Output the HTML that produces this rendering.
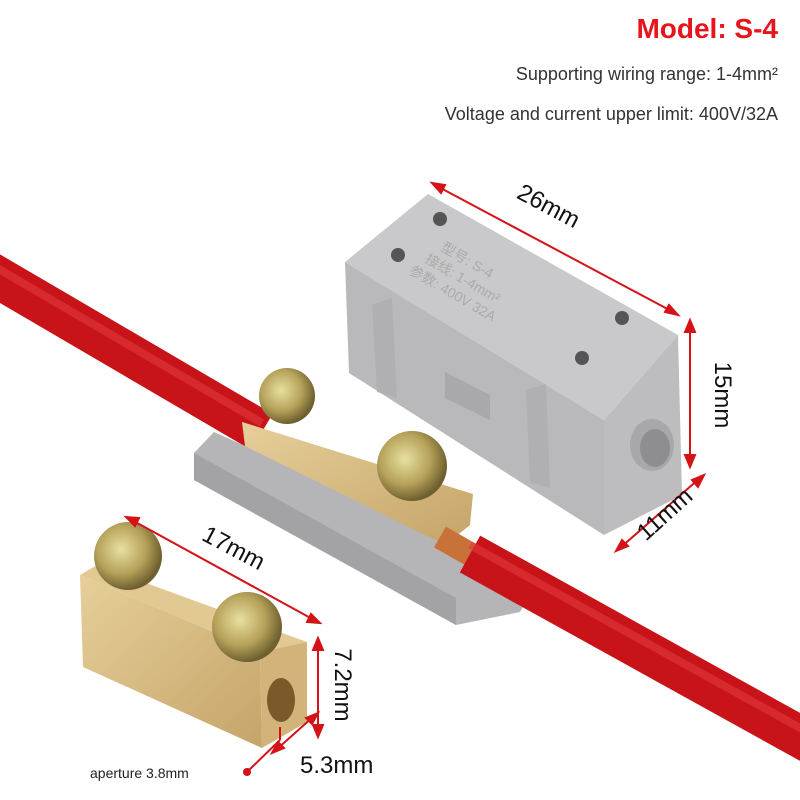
<!DOCTYPE html>
<html><head><meta charset="utf-8"><style>
html,body{margin:0;padding:0;background:#fff;}
svg{display:block;}
</style></head><body>
<svg width="800" height="800" viewBox="0 0 800 800" xmlns="http://www.w3.org/2000/svg" font-family="Liberation Sans, sans-serif">
<defs>
<linearGradient id="brass" x1="0" y1="0" x2="1" y2="1"><stop offset="0" stop-color="#e6cf9a"/><stop offset="1" stop-color="#c5a468"/></linearGradient>
<radialGradient id="screw" cx="0.4" cy="0.4" r="0.6"><stop offset="0" stop-color="#e8e0a0"/><stop offset="0.6" stop-color="#b6a25a"/><stop offset="1" stop-color="#6f6030"/></radialGradient>
</defs>
<rect width="800" height="800" fill="#fff"/>
<text x="778" y="38" text-anchor="end" font-size="28" font-weight="bold" fill="#e8141c">Model: S-4</text>
<text x="778" y="80" text-anchor="end" font-size="18" fill="#333">Supporting wiring range: 1-4mm²</text>
<text x="778" y="120" text-anchor="end" font-size="18" fill="#333">Voltage and current upper limit: 400V/32A</text>

<!-- wire under housing -->
<line x1="-20" y1="267" x2="262" y2="432" stroke="#c81419" stroke-width="42"/>
<line x1="-20" y1="258" x2="262" y2="423" stroke="#e2393c" stroke-width="8" opacity="0.6"/>

<!-- top gray box -->
<polygon points="345,262 604,420 604,535 349,373" fill="#b9b9bb"/>
<polygon points="428,194 678,335 604,420 345,262" fill="#c9c9cb"/>
<polygon points="604,420 678,335 682,495 604,535" fill="#bdbdbf"/>
<polygon points="372,305 392,298 397,398 377,392" fill="#b0b0b2"/>
<polygon points="526,390 546,384 550,488 530,482" fill="#b0b0b2"/>
<polygon points="445,372 490,395 490,420 445,398" fill="#a9a9ab"/>
<ellipse cx="652" cy="445" rx="22" ry="26" fill="#a8a8aa"/>
<ellipse cx="655" cy="448" rx="15" ry="19" fill="#8e8e90"/>
<circle cx="440" cy="219" r="7" fill="#555"/><circle cx="398" cy="255" r="7" fill="#555"/>
<circle cx="622" cy="318" r="7" fill="#555"/><circle cx="582" cy="358" r="7" fill="#555"/>
<g transform="translate(440,250) rotate(30)" font-size="14" fill="#aaa" font-family="Liberation Sans, Noto Sans CJK SC, sans-serif">
<text x="0" y="0">型号: S-4</text><text x="-8" y="18">接线: 1-4mm²</text><text x="-16" y="36">参数: 400V 32A</text></g>

<!-- lower housing -->
<polygon points="214,432 540,578 520,612 456,625 194,480 194,453" fill="#b5b5b7"/>
<polygon points="194,453 456,598 456,625 194,480" fill="#a3a3a5"/>
<polygon points="242,422 473,494 470,525 445,545 245,446" fill="url(#brass)"/>
<line x1="440" y1="537" x2="475" y2="557" stroke="#c8723a" stroke-width="24"/>
<!-- wire exiting -->
<line x1="470" y1="554" x2="820" y2="748" stroke="#c81419" stroke-width="42"/>
<line x1="470" y1="545" x2="820" y2="739" stroke="#e2393c" stroke-width="8" opacity="0.6"/>
<circle cx="287" cy="396" r="28" fill="url(#screw)"/>
<circle cx="412" cy="466" r="35" fill="url(#screw)"/>

<!-- brass block -->
<polygon points="80,575 97,565 307,642 260,652" fill="#e2c993"/>
<polygon points="80,575 260,652 262,748 83,667" fill="url(#brass)"/>
<polygon points="260,652 307,642 307,722 262,748" fill="#d2b47a"/>
<ellipse cx="281" cy="700" rx="14" ry="22" fill="#7a5a2a"/>
<circle cx="128" cy="556" r="34" fill="url(#screw)"/>
<circle cx="247" cy="627" r="35" fill="url(#screw)"/>

<!-- dimension lines -->
<g stroke="#d41218" stroke-width="2" fill="#d41218">
<line x1="435" y1="185" x2="675" y2="313"/><polygon points="432,183 445,185 441,193"/><polygon points="678,315 665,312 669,305"/>
<line x1="690" y1="325" x2="690" y2="462"/><polygon points="690,320 685,332 695,332"/><polygon points="690,467 685,455 695,455"/>
<line x1="700" y1="478" x2="620" y2="548"/><polygon points="704,475 698,487 692,480"/><polygon points="616,551 622,540 628,546"/>
<line x1="130" y1="519" x2="316" y2="621"/><polygon points="126,517 139,518 135,526"/><polygon points="320,623 307,622 311,614"/>
<line x1="318" y1="643" x2="318" y2="732"/><polygon points="318,638 313,650 323,650"/><polygon points="318,737 313,725 323,725"/>
<line x1="314" y1="716" x2="276" y2="750"/><polygon points="318,713 312,724 306,718"/><polygon points="272,753 278,742 284,748"/>
<line x1="280" y1="727" x2="280" y2="740"/>
<line x1="280" y1="740" x2="248" y2="771"/>
</g>
<circle cx="247" cy="772" r="4" fill="#d41218"/>
<text x="545" y="213" font-size="24" fill="#111" transform="rotate(28 545 213)" text-anchor="middle">26mm</text>
<text x="715" y="395" font-size="24" fill="#111" transform="rotate(90 715 395)" text-anchor="middle">15mm</text>
<text x="670" y="520" font-size="24" fill="#111" transform="rotate(-42 670 520)" text-anchor="middle">11mm</text>
<text x="230" y="555" font-size="24" fill="#111" transform="rotate(28 230 555)" text-anchor="middle">17mm</text>
<text x="335" y="685" font-size="24" fill="#111" transform="rotate(90 335 685)" text-anchor="middle">7.2mm</text>
<text x="300" y="773" font-size="24" fill="#111">5.3mm</text>
<text x="90" y="778" font-size="14" fill="#222">aperture 3.8mm</text>
</svg>
</body></html>
